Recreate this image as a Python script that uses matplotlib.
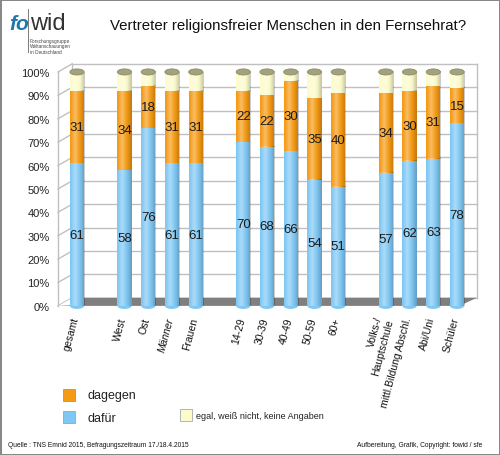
import numpy as np
import matplotlib.pyplot as plt
from matplotlib.patches import Ellipse, Polygon, Rectangle

plt.rcParams['font.family'] = ['Liberation Sans', 'DejaVu Sans']

categories = ['gesamt', 'West', 'Ost', 'Männer', 'Frauen',
              '14-29', '30-39', '40-49', '50-59', '60+',
              'Volks-/\nHauptschule', 'mittl.Bildung Abschl.', 'Abi/Uni', 'Schüler']
dafuer = [61, 58, 76, 61, 61, 70, 68, 66, 54, 51, 57, 62, 63, 78]
dagegen = [31, 34, 18, 31, 31, 22, 22, 30, 35, 40, 34, 30, 31, 15]
egal = [100 - a - b for a, b in zip(dafuer, dagegen)]
# gaps between the groups
positions = [0, 2, 3, 4, 5, 7, 8, 9, 10, 11, 13, 14, 15, 16]

c_blue = '#80c8f4'
c_orange = '#f49a14'
c_cream = '#fcfbcc'

fig = plt.figure(figsize=(5, 4.56), dpi=100)
fig.patch.set_edgecolor('#888888')
fig.patch.set_linewidth(2)
ax = fig.add_axes([0.116, 0.327, 0.838, 0.513])
ax.set_xlim(-0.8, 16.84)
ax.set_ylim(0, 100)
for s in ax.spines.values():
    s.set_visible(False)
ax.set_xticks([])
ax.set_yticks(np.arange(0, 101, 10))
ax.set_yticklabels([f'{v}%' for v in range(0, 101, 10)], fontsize=8, color='#222222')
ax.tick_params(axis='y', length=0, pad=6)

# back wall, grid and left wall (fake 3d)
d = 3.5
xl, xb, xr = -0.8, -0.2, 16.84
gc = '#c0c0c0'
for v in range(0, 101, 10):
    ax.plot([xb, xr], [v + d, v + d], color=gc, lw=1, clip_on=False, zorder=1)
    ax.plot([xl, xb], [v, v + d], color=gc, lw=1, clip_on=False, zorder=1)
ax.plot([xl, xl], [0, 100], color=gc, lw=1, clip_on=False, zorder=1)
ax.plot([xb, xb], [d, 100 + d], color=gc, lw=1, clip_on=False, zorder=1)
ax.plot([xr, xr], [d, 100 + d], color=gc, lw=1, clip_on=False, zorder=1)
floor = Polygon([[xl, 0], [16.1, 0], [xr, d], [xb, d]], closed=True,
                facecolor='#7f7f7f', edgecolor='none', clip_on=False, zorder=2)
ax.add_patch(floor)
ax.add_patch(Polygon([[xl, 0], [xb, d], [xb, 0.3]], closed=True, facecolor='#ffffff',
                     edgecolor='none', clip_on=False, zorder=2))

w = 0.6
b1 = ax.bar(positions, dafuer, w, color=c_blue, zorder=3, clip_on=False)
b2 = ax.bar(positions, dagegen, w, bottom=dafuer, color=c_orange, zorder=3, clip_on=False)
bot3 = [a + b for a, b in zip(dafuer, dagegen)]
b3 = ax.bar(positions, egal, w, bottom=bot3, color=c_cream, zorder=3, clip_on=False)

# cylinder shading
grad = np.linspace(0, 1, 64)
shade = np.zeros((1, 64, 4))
light = np.clip(1 - np.abs(grad - 0.35) / 0.3, 0, 1)
dark = np.clip((grad - 0.65) / 0.35, 0, 1)
shade[0, :, :3] = np.where(dark[:, None] > 0, 0.0, 1.0)
shade[0, :, 3] = light * 0.35 + dark * 0.22
for cont in (b1, b2, b3):
    for p in cont:
        x0, y0 = p.get_x(), p.get_y()
        im = ax.imshow(shade, extent=[x0, x0 + w, y0, y0 + p.get_height()],
                       aspect='auto', zorder=4, clip_on=False)
        im.set_clip_path(p)

# bottom and top caps
eh = 2.6
for x in positions:
    ax.add_patch(Ellipse((x, 0), w, eh, facecolor=c_blue, edgecolor='none', zorder=3, clip_on=False))
    ax.add_patch(Ellipse((x, 100), w, eh, facecolor='#a3a27c', edgecolor='#8c8b66',
                         lw=0.6, zorder=5, clip_on=False))

for x, a, b in zip(positions, dafuer, dagegen):
    ax.text(x, a / 2, str(a), ha='center', va='center', fontsize=9.5, color='#1a1a1a', zorder=6)
    ax.text(x, a + b / 2, str(b), ha='center', va='center', fontsize=9.5, color='#1a1a1a', zorder=6)

for x, lab in zip(positions, categories):
    ax.text(x - 0.05, -4.8, lab, rotation=75, rotation_mode='anchor', ha='right', va='center',
            fontsize=7.5, style='italic' if lab == 'Männer' else 'normal', color='#111111',
            linespacing=1.1)

# title and logo
fig.text(0.576, 0.943, 'Vertreter religionsfreier Menschen in den Fernsehrat?',
         ha='center', va='center', fontsize=10.8, color='#111111')
fig.text(0.018, 0.947, 'fo', fontsize=15, fontweight='bold', style='italic', color='#1f78a8',
         ha='left', va='center')
fig.text(0.06, 0.947, 'wid', fontsize=17, color='#333333', ha='left', va='center')
fig.add_artist(plt.Line2D([0.055, 0.055], [0.883, 0.978], color='#666666', lw=0.6))
fig.text(0.059, 0.897, 'Forschungsgruppe\nWeltanschauungen\nin Deutschland', fontsize=3.4,
         color='#444444', ha='left', va='center', linespacing=1.1)

# legend
fig.patches.append(Rectangle((0.125, 0.118), 0.024, 0.026, transform=fig.transFigure,
                             facecolor=c_orange, edgecolor='#d08010', lw=0.5))
fig.patches.append(Rectangle((0.125, 0.07), 0.024, 0.026, transform=fig.transFigure,
                             facecolor=c_blue, edgecolor='#60a8d8', lw=0.5))
fig.patches.append(Rectangle((0.36, 0.074), 0.024, 0.026, transform=fig.transFigure,
                             facecolor=c_cream, edgecolor='#999999', lw=0.5))
fig.text(0.175, 0.131, 'dagegen', fontsize=9, color='#222222', va='center')
fig.text(0.175, 0.081, 'dafür', fontsize=9, color='#222222', va='center')
fig.text(0.392, 0.087, 'egal, weiß nicht, keine Angaben', fontsize=6.5, color='#222222', va='center')

fig.text(0.016, 0.024, 'Quelle : TNS Emnid 2015, Befragungszeitraum 17./18.4.2015',
         fontsize=4.8, color='#111111', va='center')
fig.text(0.964, 0.024, 'Aufbereitung, Grafik, Copyright: fowid / sfe',
         fontsize=4.8, color='#111111', va='center', ha='right')

fig.savefig('out.png', dpi=100)
